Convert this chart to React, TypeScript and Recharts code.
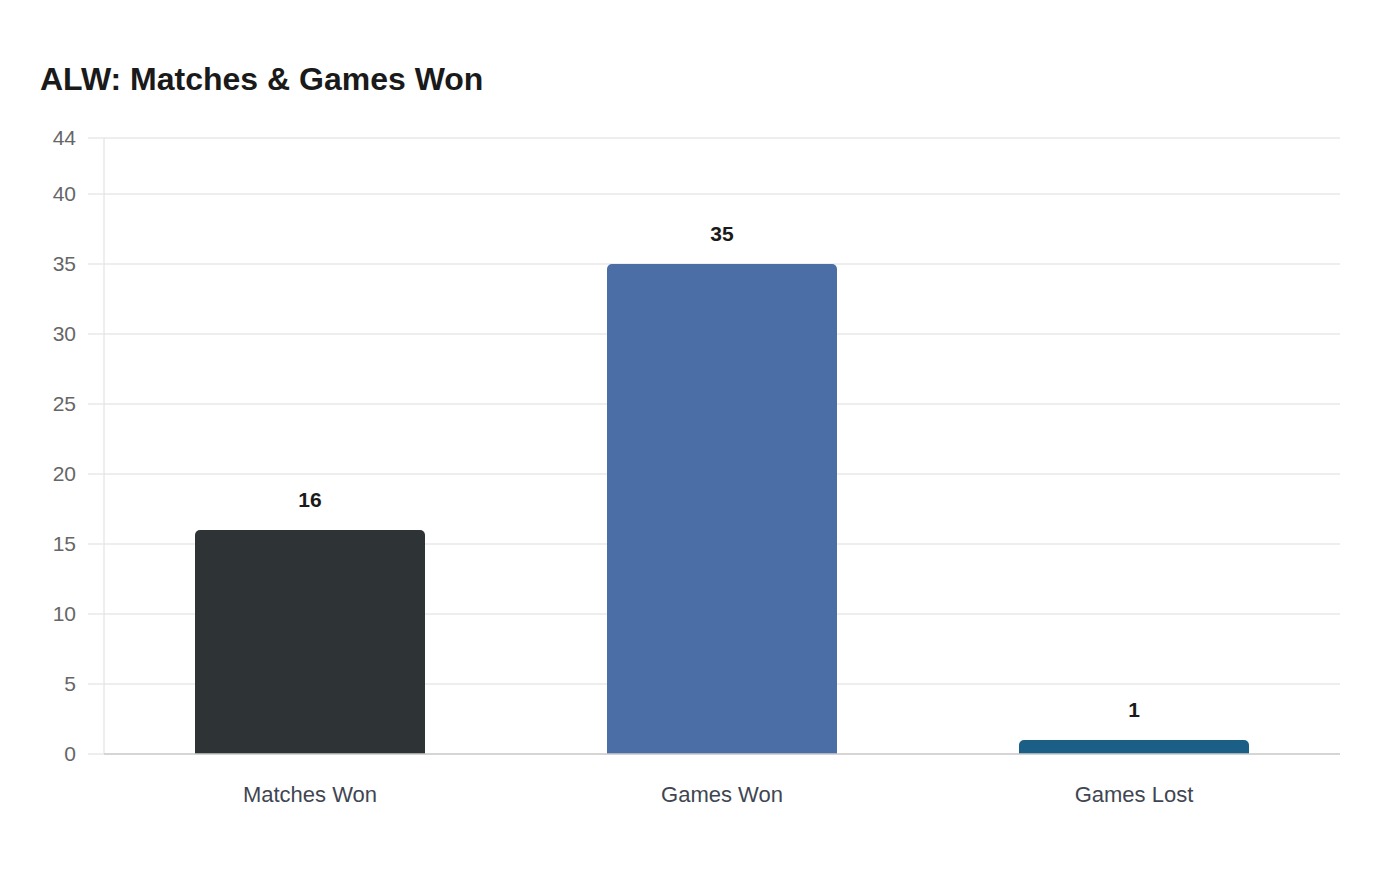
import { BarChart, Bar, XAxis, YAxis, CartesianGrid, LabelList, Cell } from "recharts";

const categories = ["Matches Won", "Games Won", "Games Lost"];
const values = [16, 35, 1];
const yTicks = [0, 5, 10, 15, 20, 25, 30, 35, 40, 44];

const barColors = ["#2e3436", "#4a6ea5", "#1b5f87"];

const data = categories.map((name, i) => ({ name, value: values[i] }));

export default function App() {
  return (
    <div style={{ position: "relative", width: 1400, height: 880, background: "#fff", fontFamily: "'Liberation Sans', Arial, sans-serif" }}>
      <style>{`body{margin:0}`}</style>
      <div
        style={{
          position: "absolute",
          left: 40,
          top: 60,
          fontSize: 32,
          fontWeight: 700,
          color: "#1a1a1a",
          lineHeight: "38px",
        }}
      >
        ALW: Matches &amp; Games Won
      </div>
      <BarChart
        width={1400}
        height={880}
        data={data}
        margin={{ top: 138, right: 60, left: 1, bottom: 66 }}
        style={{ fontFamily: "'Liberation Sans', Arial, sans-serif" }}
      >
        <CartesianGrid vertical={false} stroke="#e8e8e8" strokeWidth={1.5} />
        <YAxis
          width={103}
          domain={[0, 44]}
          ticks={yTicks}
          interval={0}
          tick={{ fontSize: 21, fill: "#666666" }}
          tickSize={16}
          tickMargin={12}
          tickLine={{ stroke: "#e8e8e8", strokeWidth: 1.5 }}
          axisLine={{ stroke: "#dddddd" }}
        />
        <XAxis
          dataKey="name"
          height={60}
          tickSize={0}
          tickMargin={32}
          tickLine={false}
          tick={{ fontSize: 22, fill: "#3f4652" }}
          axisLine={{ stroke: "#cccccc", strokeWidth: 1.5 }}
        />
        <Bar dataKey="value" barSize={230} radius={[5, 5, 0, 0]} isAnimationActive={false}>
          {data.map((d, i) => (
            <Cell key={d.name} fill={barColors[i]} />
          ))}
          <LabelList dataKey="value" position="top" offset={23} style={{ fontSize: 21, fontWeight: 700, fill: "#1a1a1a" }} />
        </Bar>
      </BarChart>
    </div>
  );
}
